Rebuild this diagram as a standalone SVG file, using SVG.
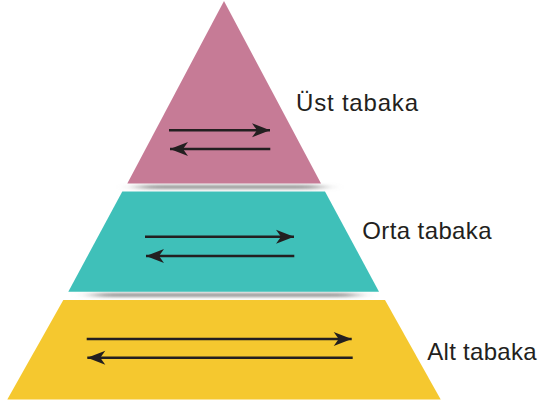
<svg xmlns="http://www.w3.org/2000/svg" width="540" height="403" viewBox="0 0 540 403">
<style>
.arr{stroke:#231F20;stroke-width:2.6;fill:none}
.lbl{font-family:"Liberation Sans",Arial,Helvetica,sans-serif;font-size:24px;fill:#231F20}
.shadow{fill:#9a9a9a;filter:url(#blur)}
</style>
<defs>
<filter id="blur" x="-30%" y="-200%" width="160%" height="500%">
<feGaussianBlur stdDeviation="10 1.6"/>
</filter>
<marker id="ah" viewBox="-19 -8 20 16" refX="0" refY="0" markerWidth="20" markerHeight="16" markerUnits="userSpaceOnUse" orient="auto">
<path d="M0,0 L-18,-7 L-13,0 L-18,7 Z" fill="#231F20"/>
</marker>
</defs>
<rect width="540" height="403" fill="#ffffff"/>
<g id="shadows">
<rect class="shadow" x="140" y="185" width="180" height="4"/>
<rect class="shadow" x="95" y="293" width="260" height="4"/>
</g>
<g id="ust">
<polygon points="224,1 321,183.5 127.3,183.5" fill="#C67B96"/>
<text class="lbl" x="296" y="111" textLength="122">Üst tabaka</text>
</g>
<g id="orta">
<polygon points="122.3,191.5 325,191.5 379,291.7 68.3,291.7" fill="#3FC0B9"/>
<text class="lbl" x="362.3" y="239.3" textLength="129.3">Orta tabaka</text>
</g>
<g id="alt">
<polygon points="63.3,300 385,300 440.7,399.5 7.3,399.5" fill="#F5C82F"/>
<text class="lbl" x="427.3" y="360.3" textLength="109.3">Alt tabaka</text>
</g>
<g id="connectors">
<line class="arr" x1="169" y1="130.3" x2="270" y2="130.3" marker-end="url(#ah)"/>
<line class="arr" x1="270.3" y1="149" x2="170" y2="149" marker-end="url(#ah)"/>
<line class="arr" x1="145" y1="236.7" x2="294" y2="236.7" marker-end="url(#ah)"/>
<line class="arr" x1="294.3" y1="256" x2="146" y2="256" marker-end="url(#ah)"/>
<line class="arr" x1="86.7" y1="339" x2="351.7" y2="339" marker-end="url(#ah)"/>
<line class="arr" x1="352.7" y1="357.7" x2="87.3" y2="357.7" marker-end="url(#ah)"/>
</g>
</svg>
